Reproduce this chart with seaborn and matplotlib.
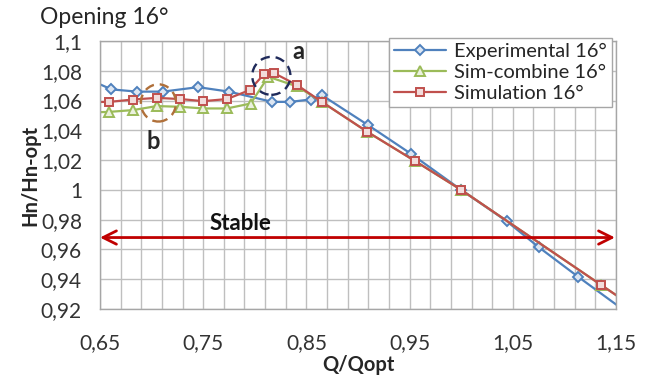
import matplotlib
matplotlib.use('Agg')
import matplotlib.pyplot as plt
import seaborn as sns
import pandas as pd
from matplotlib.patches import Ellipse
from matplotlib.ticker import FuncFormatter, MultipleLocator, FixedLocator

# ---- data ----
exp_q = [0.64, 0.661, 0.686, 0.711, 0.745, 0.775, 0.817, 0.834, 0.854, 0.865,
         0.910, 0.951, 1.000, 1.044, 1.075, 1.113, 1.16]
exp_h = [1.074, 1.0675, 1.066, 1.066, 1.069, 1.066, 1.0591, 1.0591, 1.0607, 1.0636,
         1.0434, 1.0244, 1.000, 0.979, 0.9616, 0.9418, 0.918]

simc_q = [0.64, 0.659, 0.682, 0.705, 0.728, 0.750, 0.773, 0.796, 0.813, 0.841, 0.865,
          0.909, 0.955, 1.000, 1.135, 1.17]
simc_h = [1.052, 1.0524, 1.0536, 1.0563, 1.0558, 1.0547, 1.0547, 1.058, 1.076, 1.0695, 1.0591,
          1.039, 1.0195, 1.000, 0.9364, 0.920]

sim_q = [0.64, 0.659, 0.682, 0.705, 0.728, 0.750, 0.773, 0.795, 0.809, 0.819, 0.841, 0.865,
         0.909, 0.955, 1.000, 1.135, 1.17]
sim_h = [1.059, 1.0591, 1.0607, 1.0618, 1.061, 1.0596, 1.061, 1.067, 1.0778, 1.0783, 1.0704, 1.0591,
         1.039, 1.0195, 1.000, 0.9364, 0.920]

series = ["Experimental 16°", "Sim-combine 16°", "Simulation 16°"]
x_ticks = [0.65, 0.75, 0.85, 0.95, 1.05, 1.15]
y_ticks = [0.92, 0.94, 0.96, 0.98, 1.0, 1.02, 1.04, 1.06, 1.08, 1.1]

sns.set_theme(style="white")
plt.rcParams['font.family'] = ['Lato', 'DejaVu Sans']

fig = plt.figure(figsize=(6.52, 3.83), dpi=100)
ax = fig.add_axes([100/652, 1-309/383, 516/652, 268/383])

colors = ["#4F81BD", "#9BBB59", "#C0504D"]
faces = ["#DCE6F2", "#EBF1DE", "#F2DCDB"]
markers = ["D", "^", "s"]
msizes = [5.5, 6.5, 6]
data = [(exp_q, exp_h), (simc_q, simc_h), (sim_q, sim_h)]
for (q, h), name, c, fc, m, ms in zip(data, series, colors, faces, markers, msizes):
    df = pd.DataFrame({"Q/Qopt": q, "Hn/Hn-opt": h})
    sns.lineplot(data=df, x="Q/Qopt", y="Hn/Hn-opt", sort=False, ax=ax, color=c,
                 lw=1.6, marker=m, markersize=ms, markerfacecolor=fc,
                 markeredgecolor=c, markeredgewidth=1.4, label=name)

ax.set_xlim(0.65, 1.15)
ax.set_ylim(0.92, 1.1)
ax.xaxis.set_major_locator(FixedLocator(x_ticks))
ax.xaxis.set_minor_locator(MultipleLocator(0.02, offset=0.01))
ax.yaxis.set_major_locator(FixedLocator(y_ticks))

def fmt(v, pos):
    s = ("%.2f" % v).rstrip('0').rstrip('.')
    return s.replace('.', ',')
ax.xaxis.set_major_formatter(FuncFormatter(fmt))
ax.yaxis.set_major_formatter(FuncFormatter(fmt))

ax.grid(True, which='both', axis='x', color='#BFBFBF', lw=1)
ax.grid(True, which='major', axis='y', color='#BFBFBF', lw=1)
ax.set_axisbelow(True)
for s in ax.spines.values():
    s.set_color('#A6A6A6')
    s.set_linewidth(1)

ax.tick_params(axis='x', which='both', length=0, pad=17, labelsize=15, colors='#333333')
ax.tick_params(axis='y', which='both', length=0, pad=13, labelsize=15, colors='#333333')

ax.set_xlabel("Q/Qopt", fontsize=14.5, fontweight='bold', labelpad=2)
ax.set_ylabel("Hn/Hn-opt", fontsize=14.5, fontweight='bold', labelpad=0)

fig.text(40/652, 1-17/383, "Opening 16°", fontsize=16.5, va='center', ha='left')

# Stable arrow
ax.annotate('', xy=(0.65, 0.968), xytext=(1.149, 0.968),
            arrowprops=dict(arrowstyle='<->', color='#C00000', lw=2,
                            shrinkA=0, shrinkB=0, mutation_scale=24))
ax.text(0.786, 0.9705, "Stable", fontsize=16, fontweight='bold', ha='center', va='bottom',
        color='#111111')

# annotation circles
e1 = Ellipse((0.816, 1.0766), width=0.037, height=0.0255, fill=False, ls=(0, (4, 2.5)),
             lw=1.7, edgecolor='#1F2A5A', zorder=5)
e2 = Ellipse((0.7066, 1.0584), width=0.034, height=0.025, fill=False, ls=(0, (4, 2.5)),
             lw=1.7, edgecolor='#B0703A', zorder=5)
ax.add_patch(e1)
ax.add_patch(e2)
ax.text(0.842, 1.093, "a", fontsize=17, fontweight='bold', ha='center', va='center')
ax.text(0.702, 1.0325, "b", fontsize=17, fontweight='bold', ha='center', va='center')

leg = ax.legend(loc='upper right', bbox_to_anchor=(612/652, 1-38/383),
                bbox_transform=fig.transFigure, fontsize=14.5, frameon=True,
                fancybox=False, edgecolor='#A6A6A6', framealpha=1,
                handlelength=2.6, handletextpad=0.4, borderpad=0.25, labelspacing=0.2,
                borderaxespad=0)
leg.get_frame().set_linewidth(1)

fig.savefig("out.png", dpi=100)
